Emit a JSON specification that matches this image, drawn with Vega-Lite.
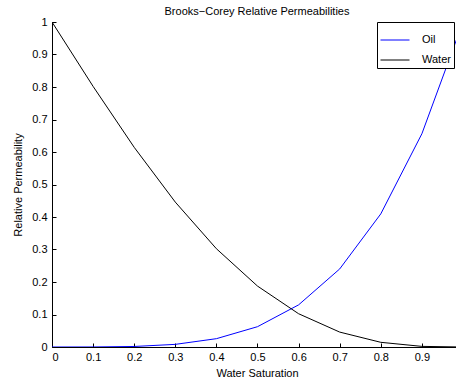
{
  "$schema": "https://vega.github.io/schema/vega-lite/v6.json",
  "autosize": "none",
  "width": 404,
  "height": 325,
  "padding": {"left": 52, "top": 22, "right": 0, "bottom": 34},
  "background": "white",
  "title": {"text": "Brooks−Corey Relative Permeabilities", "font": "Liberation Sans", "fontSize": 11, "fontWeight": "normal", "color": "#000000", "offset": -1, "dx": 3},
  "data": {"values": [
    {"sw": 0.0, "kr": 0.0, "s": "Oil"},
    {"sw": 0.1, "kr": 0.0001, "s": "Oil"},
    {"sw": 0.2, "kr": 0.0016, "s": "Oil"},
    {"sw": 0.3, "kr": 0.0081, "s": "Oil"},
    {"sw": 0.4, "kr": 0.0256, "s": "Oil"},
    {"sw": 0.5, "kr": 0.0625, "s": "Oil"},
    {"sw": 0.6, "kr": 0.1296, "s": "Oil"},
    {"sw": 0.7, "kr": 0.2401, "s": "Oil"},
    {"sw": 0.8, "kr": 0.4096, "s": "Oil"},
    {"sw": 0.9, "kr": 0.6561, "s": "Oil"},
    {"sw": 1.0, "kr": 1.0, "s": "Oil"},
    {"sw": 0.0, "kr": 1.0, "s": "Water"},
    {"sw": 0.1, "kr": 0.8019, "s": "Water"},
    {"sw": 0.2, "kr": 0.6144, "s": "Water"},
    {"sw": 0.3, "kr": 0.4459, "s": "Water"},
    {"sw": 0.4, "kr": 0.3024, "s": "Water"},
    {"sw": 0.5, "kr": 0.1875, "s": "Water"},
    {"sw": 0.6, "kr": 0.1024, "s": "Water"},
    {"sw": 0.7, "kr": 0.0459, "s": "Water"},
    {"sw": 0.8, "kr": 0.0144, "s": "Water"},
    {"sw": 0.9, "kr": 0.0019, "s": "Water"},
    {"sw": 1.0, "kr": 0.0, "s": "Water"}
  ]},
  "mark": {"type": "line", "strokeWidth": 1, "clip": true},
  "encoding": {
    "x": {"field": "sw", "type": "quantitative",
      "scale": {"domain": [0, 0.983], "nice": false, "zero": false},
      "axis": {"title": "Water Saturation", "values": [0, 0.1, 0.2, 0.3, 0.4, 0.5, 0.6, 0.7, 0.8, 0.9], "format": "~g", "titleX": 205}},
    "y": {"field": "kr", "type": "quantitative",
      "scale": {"domain": [0, 1], "nice": false},
      "axis": {"title": "Relative Permeability", "values": [0, 0.1, 0.2, 0.3, 0.4, 0.5, 0.6, 0.7, 0.8, 0.9, 1], "format": "~g"}},
    "color": {"field": "s", "type": "nominal",
      "scale": {"domain": ["Oil", "Water"], "range": ["#0000ff", "#000000"]},
      "legend": {"title": null, "orient": "none", "legendX": 325, "legendY": 0,
        "symbolType": "stroke", "symbolSize": 841, "symbolStrokeWidth": 1,
        "labelFont": "Liberation Sans", "labelFontSize": 11, "labelColor": "#000000", "labelOffset": 12,
        "strokeColor": "#000000", "fillColor": "#ffffff", "padding": 3, "rowPadding": -10}}
  },
  "config": {
    "view": {"stroke": null},
    "axis": {"grid": false, "domainColor": "#000000", "domainWidth": 1, "tickColor": "#000000", "tickSize": -4,
      "labelFont": "Liberation Sans", "labelFontSize": 11, "labelColor": "#000000",
      "titleFont": "Liberation Sans", "titleFontSize": 11, "titleFontWeight": "normal", "titleColor": "#000000"},
    "axisX": {"labelPadding": 8, "titlePadding": 5},
    "axisY": {"labelPadding": 9, "titlePadding": 8}
  }
}
